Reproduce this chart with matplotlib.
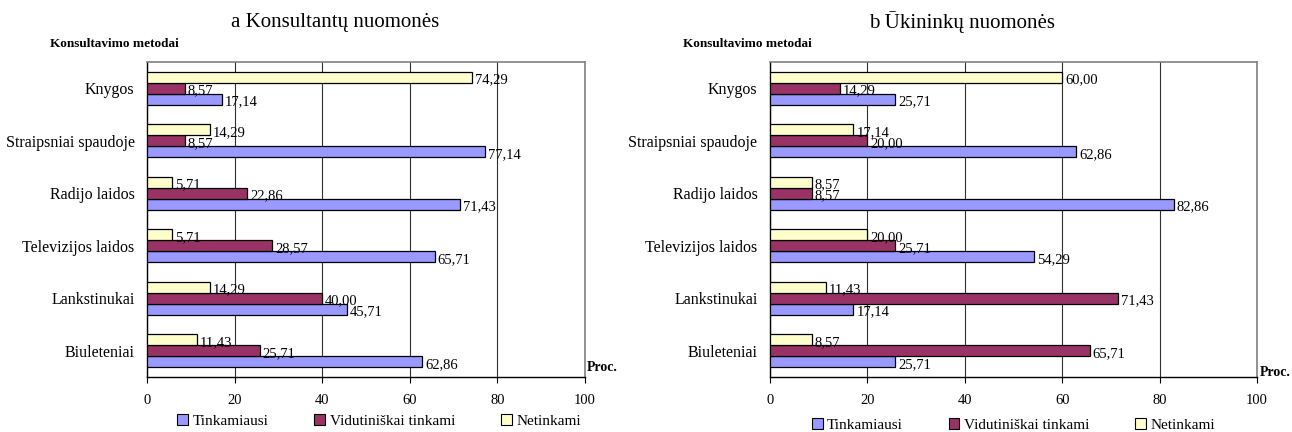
import numpy as np
import matplotlib.pyplot as plt
from matplotlib.patches import Patch

plt.rcParams['font.family'] = ['Liberation Serif', 'DejaVu Serif']

# categories, bottom to top
categories = ['Biuleteniai', 'Lankstinukai', 'Televizijos laidos',
              'Radijo laidos', 'Straipsniai spaudoje', 'Knygos']
series_names = ['Tinkamiausi', 'Vidutiniškai tinkami', 'Netinkami']

# a: consultants
cons_tink = [62.86, 45.71, 65.71, 71.43, 77.14, 17.14]
cons_vid = [25.71, 40.00, 28.57, 22.86, 8.57, 8.57]
cons_net = [11.43, 14.29, 5.71, 5.71, 14.29, 74.29]

# b: farmers
ukin_tink = [25.71, 17.14, 54.29, 82.86, 62.86, 25.71]
ukin_vid = [65.71, 71.43, 25.71, 8.57, 20.00, 14.29]
ukin_net = [8.57, 11.43, 20.00, 8.57, 17.14, 60.00]

x_ticks = [0, 20, 40, 60, 80, 100]
colors = ['#9999FF', '#993366', '#FFFFCC']

W, H = 1292, 432
fig = plt.figure(figsize=(W / 100, H / 100), dpi=100)


def draw_panel(rect, data, title, title_x, sub_x, proc_dy, leg_pos):
    ax = fig.add_axes(rect)
    y = np.arange(len(categories))
    h = 0.21
    offsets = [-h, 0, h]
    for vals, off, col in zip(data, offsets, colors):
        bars = ax.barh(y + off, vals, height=h, color=col,
                       edgecolor='black', linewidth=0.9, zorder=3)
        for b, v in zip(bars, vals):
            ax.annotate(f'{v:.2f}'.replace('.', ','),
                        (b.get_width(), b.get_y() + b.get_height() / 2),
                        xytext=(2, -2), textcoords='offset points',
                        ha='left', va='center', fontsize=10.5, zorder=4)
    ax.set_xlim(0, 100)
    ax.set_ylim(-0.5, len(categories) - 0.5)
    ax.set_xticks(x_ticks)
    ax.set_yticks(y)
    ax.set_yticklabels(categories, fontsize=11.5)
    ax.tick_params(axis='y', length=0, pad=9)
    ax.tick_params(axis='x', labelsize=10.5, length=4, pad=8, color='black')
    ax.xaxis.grid(True, color='#303030', linewidth=0.8, zorder=0)
    for s in ['top', 'right']:
        ax.spines[s].set_color('#808080')
        ax.spines[s].set_linewidth(1.2)
    for s in ['left', 'bottom']:
        ax.spines[s].set_color('black')
        ax.spines[s].set_linewidth(1.0)
    ax.text(1.005, 0.0 + proc_dy, 'Proc.', transform=ax.transAxes,
            fontsize=10, fontweight='bold', ha='left', va='bottom')
    fig.text(title_x / W, 1 - 22 / H, title, fontsize=15,
             ha='center', va='center')
    fig.text(sub_x / W, 1 - 44 / H, 'Konsultavimo metodai', fontsize=9.5,
             fontweight='bold', ha='left', va='center')
    handles = [Patch(facecolor=c, edgecolor='black', linewidth=0.8) for c in colors]
    ax.legend(handles, series_names, loc='center',
              bbox_to_anchor=leg_pos, ncol=3, frameon=False,
              fontsize=11, handlelength=0.7, handleheight=0.7,
              handletextpad=0.3, columnspacing=3.0)
    return ax


left = 147 / W
right_l = 770 / W
bottom = 1 - 377 / H
height = (377 - 62) / H
draw_panel([left, bottom, (585 - 147) / W, height],
           [cons_tink, cons_vid, cons_net],
           'a Konsultantų nuomonės', 335, 50, 0.01, (0.53, -0.14))
draw_panel([right_l, bottom, (1257 - 770) / W, height],
           [ukin_tink, ukin_vid, ukin_net],
           'b Ūkininkų nuomonės', 962, 683, -0.005, (0.50, -0.152))

fig.savefig('out.png', dpi=100)
